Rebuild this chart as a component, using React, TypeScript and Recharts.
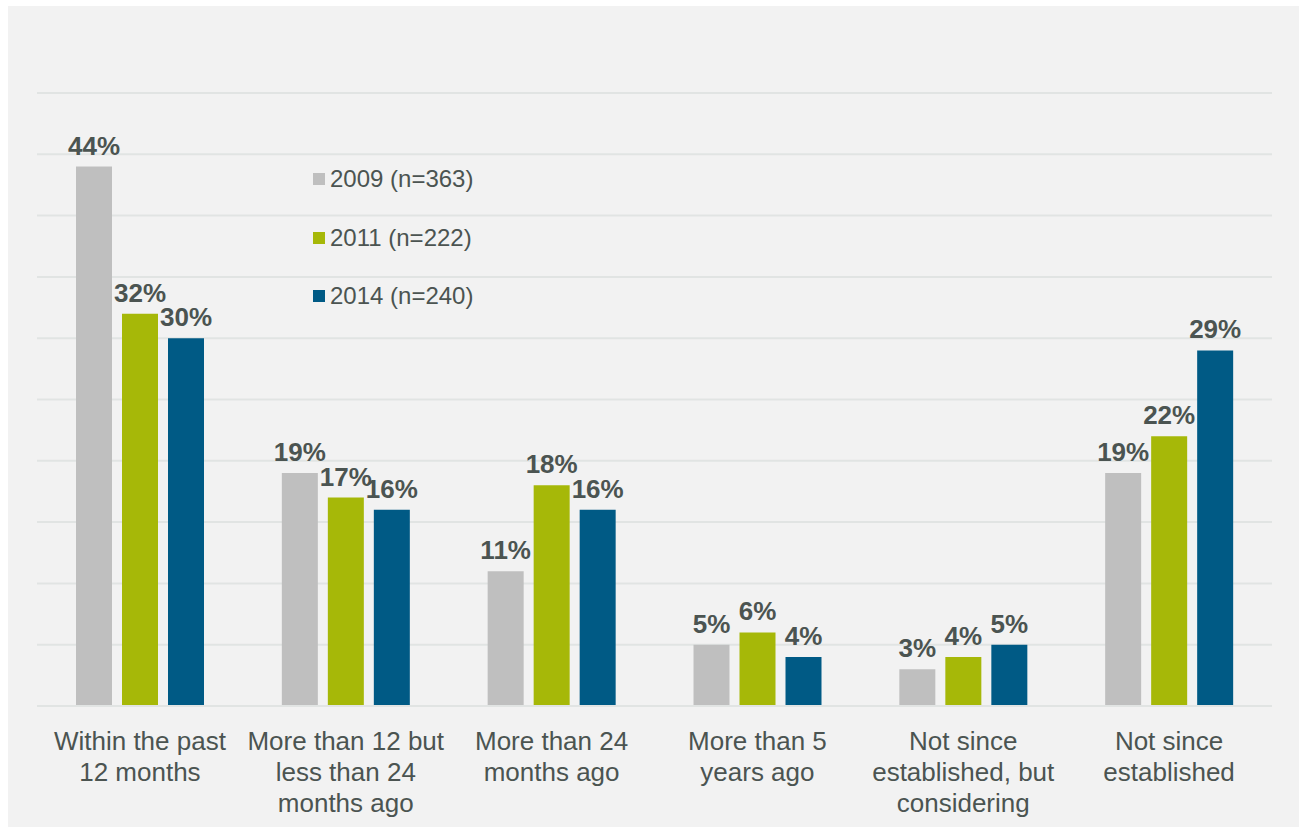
import React from 'react';
import { BarChart, Bar, CartesianGrid, XAxis, YAxis, Legend, LabelList } from 'recharts';

// Time since last review, share of respondents per survey year
const categories = [
  'Within the past 12 months',
  'More than 12 but less than 24 months ago',
  'More than 24 months ago',
  'More than 5 years ago',
  'Not since established, but considering',
  'Not since established',
];

// wrapped lines for the category axis
const categoryLines = [
  ['Within the past', '12 months'],
  ['More than 12 but', 'less than 24', 'months ago'],
  ['More than 24', 'months ago'],
  ['More than 5', 'years ago'],
  ['Not since', 'established, but', 'considering'],
  ['Not since', 'established'],
];

const values2009 = [44, 19, 11, 5, 3, 19];
const values2011 = [32, 17, 18, 6, 4, 22];
const values2014 = [30, 16, 16, 4, 5, 29];

const yTicks = [0, 5, 10, 15, 20, 25, 30, 35, 40, 45, 50];

const FONT = '"Liberation Sans", Arial, sans-serif';
const TEXT = '#4b5451';
const GRID = '#e1e4e3';

const data = categories.map((name, i) => ({
  name,
  y2009: values2009[i],
  y2011: values2011[i],
  y2014: values2014[i],
}));

const CategoryTick = ({ x, y, payload, index }: any) => {
  const lines = categoryLines[index ?? 0] || [String(payload?.value ?? '')];
  return (
    <text x={x} y={y} textAnchor="middle" fill={TEXT} fontFamily={FONT} fontSize={26}>
      {lines.map((line: string, i: number) => (
        <tspan key={i} x={x} dy={i === 0 ? 36 : 31}>
          {line}
        </tspan>
      ))}
    </text>
  );
};

const LegendBox = ({ payload }: any) => (
  <div style={{ fontFamily: FONT }}>
    {(payload || []).map((item: any) => (
      <div key={item.value} style={{ display: 'flex', alignItems: 'center', height: 58.5 }}>
        <span style={{ width: 12, height: 12, background: item.color, marginRight: 5, display: 'inline-block' }} />
        <span style={{ fontSize: 24, color: TEXT, lineHeight: '24px' }}>{item.value}</span>
      </div>
    ))}
  </div>
);

const pctLabel = (v: any) => `${v}%`;

const labelStyle = { fill: TEXT, fontFamily: FONT, fontSize: 26, fontWeight: 700 };

export default function App() {
  return (
    <div style={{ position: 'absolute', left: 8, top: 6, width: 1291, height: 821, background: '#f2f2f2' }}>
      <BarChart
        width={1291}
        height={821}
        data={data}
        margin={{ top: 87, right: 27, bottom: 91, left: 29 }}
        barSize={36}
        barGap={10}
      >
        <CartesianGrid vertical={false} stroke={GRID} strokeWidth={2} />
        <XAxis
          dataKey="name"
          height={30}
          tick={<CategoryTick />}
          tickLine={false}
          axisLine={{ stroke: GRID, strokeWidth: 2 }}
          interval={0}
        />
        <YAxis hide domain={[0, 50]} ticks={yTicks} />
        <Legend
          layout="vertical"
          verticalAlign="middle"
          align="center"
          content={<LegendBox />}
          wrapperStyle={{ top: 144, left: 305, width: 200 }}
        />
        <Bar dataKey="y2009" name="2009 (n=363)" fill="#bfbfbf" isAnimationActive={false}>
          <LabelList dataKey="y2009" position="top" offset={12} formatter={pctLabel} style={labelStyle} />
        </Bar>
        <Bar dataKey="y2011" name="2011 (n=222)" fill="#a6b808" isAnimationActive={false}>
          <LabelList dataKey="y2011" position="top" offset={12} formatter={pctLabel} style={labelStyle} />
        </Bar>
        <Bar dataKey="y2014" name="2014 (n=240)" fill="#005a85" isAnimationActive={false}>
          <LabelList dataKey="y2014" position="top" offset={12} formatter={pctLabel} style={labelStyle} />
        </Bar>
      </BarChart>
    </div>
  );
}
